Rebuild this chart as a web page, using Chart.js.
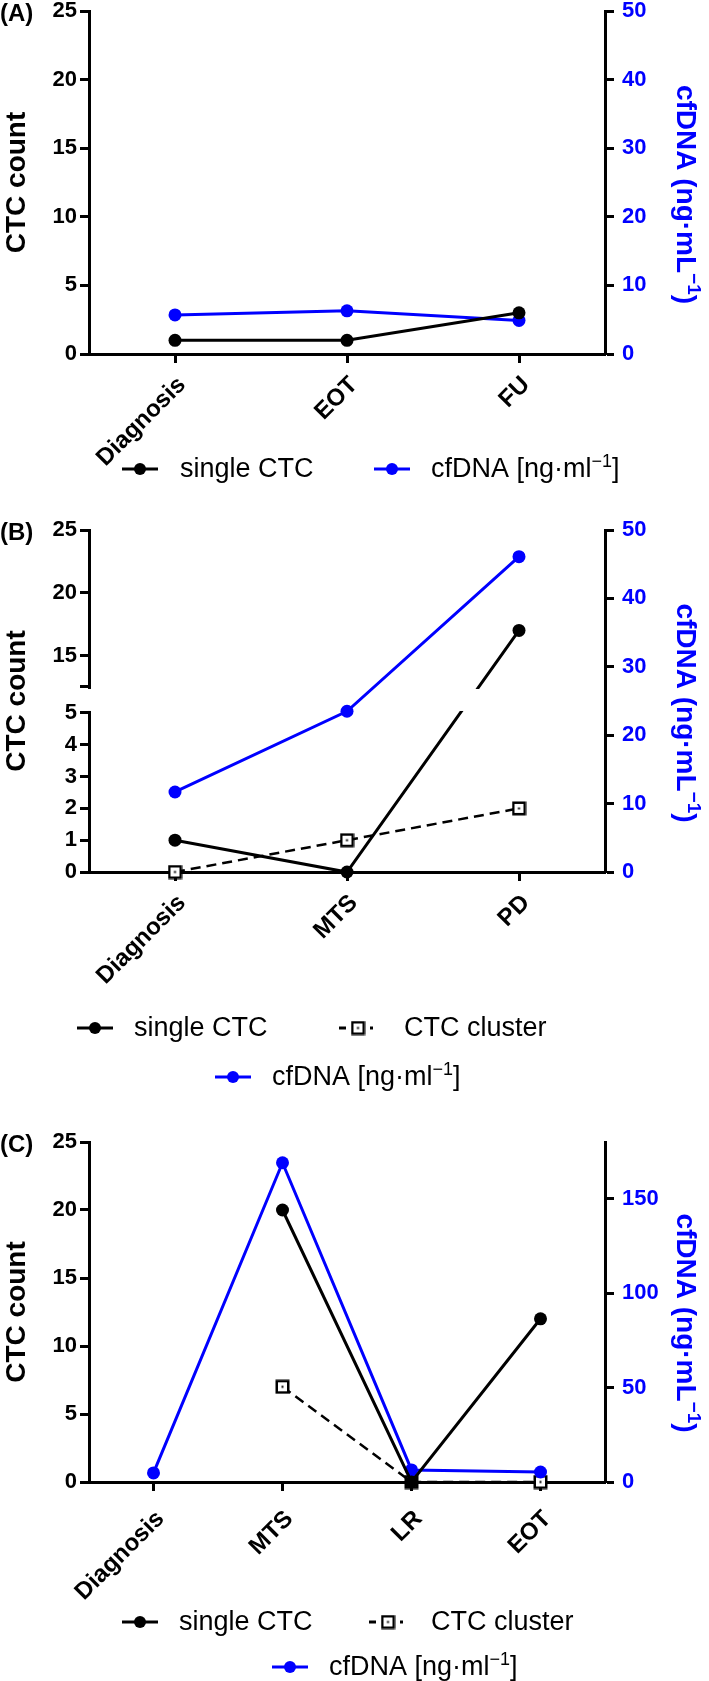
<!DOCTYPE html>
<html>
<head>
<meta charset="utf-8">
<script src="https://cdn.jsdelivr.net/npm/chart.js@4.4.1/dist/chart.umd.min.js"></script>
<style>
  html, body { margin: 0; padding: 0; background: #ffffff; }
  body { width: 709px; height: 1681px; position: relative; overflow: hidden; }
  .panel { position: absolute; left: 0; width: 709px; }
  canvas { display: block; }
</style>
</head>
<body>
<div class="panel" style="top:0px;height:505px"><canvas id="chartA" width="709" height="505"></canvas></div>
<div class="panel" style="top:505px;height:595px"><canvas id="chartB" width="709" height="595"></canvas></div>
<div class="panel" style="top:1100px;height:581px"><canvas id="chartC" width="709" height="581"></canvas></div>
<script>
// ---------------- DATA ----------------
const LABEL_SINGLE = 'single CTC';
const LABEL_CLUSTER = 'CTC cluster';
const LABEL_CFDNA = 'cfDNA [ng·ml⁻¹]';
const TITLE_LEFT = 'CTC count';
const TITLE_RIGHT = 'cfDNA (ng·mL⁻¹)';

// Panel A
const categoriesA = ['Diagnosis', 'EOT', 'FU'];
const singleCtcA = [1, 1, 3];
const cfdnaA = [5.7, 6.3, 4.9];
const ctcTicksA = [0, 5, 10, 15, 20, 25];
const cfdnaTicksA = [0, 10, 20, 30, 40, 50];

// Panel B (left axis broken between 5 and 12.5)
const categoriesB = ['Diagnosis', 'MTS', 'PD'];
const singleCtcB = [1, 0, 17];
const ctcClusterB = [0, 1, 2];
const cfdnaB = [11.7, 23.5, 46.1];
const ctcTicksB = [0, 1, 2, 3, 4, 5, 12.5, 15, 20, 25];
const ctcTickUnlabelledB = [12.5];
const cfdnaTicksB = [0, 10, 20, 30, 40, 50];

// Panel C
const categoriesC = ['Diagnosis', 'MTS', 'LR', 'EOT'];
const singleCtcC = [null, 20, 0, 12];
const ctcClusterC = [null, 7, 0, 0];
const cfdnaC = [4.8, 169, 6.4, 5.3];
const ctcTicksC = [0, 5, 10, 15, 20, 25];
const cfdnaTicksC = [0, 50, 100, 150];

// ---------------- STYLE ----------------
const FONT = "'Liberation Sans', Arial, Helvetica, sans-serif";
const BLUE = '#0000ff';
const BLACK = '#000000';
const BREAK_B = { lowMax: 5, highMin: 12.5, lowFrac: 0.465, gapFrac: 0.076 };
const TICK_SIZE = 22, XLABEL_SIZE = 24, TITLE_SIZE = 28, LEGEND_SIZE = 27;

Chart.defaults.font.family = FONT;

// Broken linear scale (piecewise mapping) for panel B
class BrokenLinearScale extends Chart.LinearScale {
  static id = 'brokenLinear';
  static defaults = {};
  _dec(v) {
    const b = BREAK_B;
    const min = this.min, max = this.max;
    if (v <= b.lowMax) return (v - min) / (b.lowMax - min) * b.lowFrac;
    if (v >= b.highMin) return b.lowFrac + b.gapFrac + (v - b.highMin) / (max - b.highMin) * (1 - b.lowFrac - b.gapFrac);
    return b.lowFrac + (v - b.lowMax) / (b.highMin - b.lowMax) * b.gapFrac;
  }
  getPixelForValue(value) {
    if (value === null || value === undefined || isNaN(value)) return NaN;
    return this.getPixelForDecimal(this._dec(value));
  }
  getValueForPixel(pixel) {
    const d = this.getDecimalForPixel(pixel);
    const b = BREAK_B, min = this.min, max = this.max;
    if (d <= b.lowFrac) return min + d / b.lowFrac * (b.lowMax - min);
    if (d >= b.lowFrac + b.gapFrac) return b.highMin + (d - b.lowFrac - b.gapFrac) / (1 - b.lowFrac - b.gapFrac) * (max - b.highMin);
    return b.lowMax + (d - b.lowFrac) / b.gapFrac * (b.highMin - b.lowMax);
  }
}
Chart.register(BrokenLinearScale);

function makeSquareImage() {
  const c = document.createElement('canvas');
  c.width = 15; c.height = 15;
  const g = c.getContext('2d');
  g.fillStyle = '#fff';
  g.fillRect(1, 1, 13, 13);
  g.strokeStyle = '#000';
  g.lineWidth = 2.5;
  g.strokeRect(1.75, 1.75, 11.5, 11.5);
  g.fillStyle = '#000';
  g.fillRect(6.5, 6.5, 2, 2);
  return c;
}
const SQUARE_IMG = makeSquareImage();

function splitSup(label) {
  const i = label.indexOf('⁻¹');
  if (i < 0) return [{ t: label }];
  return [{ t: label.slice(0, i) }, { t: '−1', sup: true }, { t: label.slice(i + 2) }];
}

function drawRich(ctx, parts, cx, cy, rot, size, weight, color, align) {
  ctx.save();
  ctx.translate(cx, cy);
  ctx.rotate(rot);
  const supSize = Math.round(size * 0.68);
  const widths = parts.map(p => {
    ctx.font = `${weight} ${p.sup ? supSize : size}px ${FONT}`;
    return ctx.measureText(p.t).width;
  });
  const total = widths.reduce((a, b) => a + b, 0);
  let x = align === 'left' ? 0 : -total / 2;
  ctx.fillStyle = color;
  ctx.textBaseline = 'middle';
  ctx.textAlign = 'left';
  parts.forEach((p, i) => {
    ctx.font = `${weight} ${p.sup ? supSize : size}px ${FONT}`;
    ctx.fillText(p.t, x, p.sup ? -size * 0.3 : 0);
    x += widths[i];
  });
  ctx.restore();
}

function drawLegendMarker(ctx, kind, cx, cy) {
  ctx.save();
  ctx.lineWidth = 3;
  if (kind === 'single' || kind === 'cfdna') {
    const col = kind === 'single' ? BLACK : BLUE;
    ctx.strokeStyle = col; ctx.fillStyle = col;
    ctx.beginPath(); ctx.moveTo(cx - 18, cy); ctx.lineTo(cx + 18, cy); ctx.stroke();
    ctx.beginPath(); ctx.arc(cx, cy, 6, 0, Math.PI * 2); ctx.fill();
  } else {
    ctx.strokeStyle = BLACK;
    ctx.beginPath(); ctx.moveTo(cx - 19, cy); ctx.lineTo(cx - 12, cy); ctx.stroke();
    ctx.beginPath(); ctx.moveTo(cx + 12, cy); ctx.lineTo(cx + 15, cy); ctx.stroke();
    ctx.drawImage(SQUARE_IMG, cx - 7.5, cy - 7.5);
  }
  ctx.restore();
}

const decorPlugin = {
  id: 'panelDecor',
  afterDraw(chart, args, opts) {
    const ctx = chart.ctx;
    const ca = chart.chartArea;
    ctx.save();
    ctx.font = `bold 24px ${FONT}`;
    ctx.fillStyle = BLACK;
    ctx.textBaseline = 'middle';
    ctx.textAlign = 'left';
    ctx.fillText(opts.letter, 0, ca.top + 3);
    drawRich(ctx, splitSup(TITLE_RIGHT), opts.rightTitleX, (ca.top + ca.bottom) / 2 + opts.rightTitleDy,
      Math.PI / 2, TITLE_SIZE, 'bold', BLUE, 'center');
    const sets = chart.data.datasets;
    opts.legend.forEach(item => {
      const ds = sets[item.index];
      drawLegendMarker(ctx, ds.legendKind, item.x, item.y);
      drawRich(ctx, splitSup(ds.label), item.tx, item.y + 1, 0, LEGEND_SIZE, 'normal', BLACK, 'left');
    });
    ctx.restore();
  }
};

const breakPlugin = {
  id: 'axisBreak',
  afterDatasetDraw(chart, args, opts) {
    if (!opts || !opts.enabled || args.index !== opts.afterIndex) return;
    const y = chart.scales.y;
    const ca = chart.chartArea;
    const ctx = chart.ctx;
    const yTop = y.getPixelForValue(BREAK_B.highMin) + 2;
    const yBot = y.getPixelForValue(BREAK_B.lowMax) - 2;
    ctx.save();
    ctx.fillStyle = '#ffffff';
    ctx.fillRect(ca.left - 5, yTop, (ca.right - 3) - (ca.left - 5), yBot - yTop);
    ctx.restore();
  }
};

function singleDs(data, order) {
  return {
    label: LABEL_SINGLE, legendKind: 'single', data, yAxisID: 'y',
    borderColor: BLACK, backgroundColor: BLACK, borderWidth: 3,
    pointRadius: 6.5, pointHoverRadius: 6.5, pointBackgroundColor: BLACK, pointBorderColor: BLACK, pointBorderWidth: 0,
    tension: 0, clip: false, order
  };
}
function clusterDs(data, order) {
  return {
    label: LABEL_CLUSTER, legendKind: 'cluster', data, yAxisID: 'y',
    borderColor: BLACK, backgroundColor: '#fff', borderWidth: 2.5, borderDash: [10, 6],
    pointStyle: SQUARE_IMG, pointRadius: 7.5,
    tension: 0, clip: false, order
  };
}
function cfdnaDs(data, order) {
  return {
    label: LABEL_CFDNA, legendKind: 'cfdna', data, yAxisID: 'y2',
    borderColor: BLUE, backgroundColor: BLUE, borderWidth: 3,
    pointRadius: 6.5, pointHoverRadius: 6.5, pointBackgroundColor: BLUE, pointBorderColor: BLUE, pointBorderWidth: 0,
    tension: 0, clip: false, order
  };
}

function buildChart(id, cfg) {
  const ctx = document.getElementById(id);
  const gridCommon = {
    display: true, drawOnChartArea: false, drawTicks: true,
    tickLength: 9, tickWidth: 3, tickColor: BLACK
  };
  return new Chart(ctx, {
    type: 'line',
    data: { labels: cfg.labels, datasets: cfg.datasets },
    options: {
      responsive: false, animation: false, devicePixelRatio: 1,
      layout: { padding: { top: cfg.padTop, left: 0, right: 0, bottom: 0 } },
      plugins: {
        legend: { display: false }, tooltip: { enabled: false },
        panelDecor: cfg.decor,
        axisBreak: cfg.axisBreak || { enabled: false }
      },
      scales: {
        x: {
          type: 'category', offset: true,
          grid: Object.assign({}, gridCommon, { offset: false }),
          border: { display: true, width: 3, color: BLACK },
          ticks: {
            color: BLACK, font: { size: XLABEL_SIZE, weight: 'bold' }, minRotation: 45, maxRotation: 45,
            autoSkip: false, padding: cfg.xLabelPad, labelOffset: 7
          },
          afterFit(s) { s.height = cfg.xHeight; s.paddingLeft = 0; s.paddingRight = 0; }
        },
        y: {
          type: cfg.leftType || 'linear', position: 'left', min: 0, max: cfg.leftMax,
          afterBuildTicks(s) { s.ticks = cfg.leftTicks.map(v => ({ value: v })); },
          grid: gridCommon,
          border: { display: true, width: 3, color: BLACK },
          ticks: {
            color: BLACK, font: { size: TICK_SIZE, weight: 'bold' }, padding: 3,
            callback: (v) => (cfg.leftUnlabelled || []).includes(v) ? '' : String(v)
          },
          title: { display: true, text: TITLE_LEFT, color: BLACK, font: { size: TITLE_SIZE, weight: 'bold' }, padding: { top: 0, bottom: 0 } },
          afterFit(s) { s.width = 89; s.paddingTop = 0; s.paddingBottom = 0; }
        },
        y2: {
          type: 'linear', position: 'right', min: 0, max: cfg.rightMax,
          afterBuildTicks(s) { s.ticks = cfg.rightTicks.map(v => ({ value: v })); },
          grid: gridCommon,
          border: { display: true, width: 3, color: BLACK },
          ticks: { color: BLUE, font: { size: TICK_SIZE, weight: 'bold' }, padding: 8, callback: (v) => String(v) },
          afterFit(s) { s.width = 104; s.paddingTop = 0; s.paddingBottom = 0; }
        }
      }
    },
    plugins: [decorPlugin, breakPlugin]
  });
}

// Panel A
buildChart('chartA', {
  labels: categoriesA,
  datasets: [singleDs(singleCtcA, 0), cfdnaDs(cfdnaA, 1)],
  leftMax: 25, leftTicks: ctcTicksA, rightMax: 50, rightTicks: cfdnaTicksA,
  padTop: 11, xHeight: 505 - 354, xLabelPad: 8,
  decor: {
    letter: '(A)', rightTitleX: 685, rightTitleDy: 12,
    legend: [
      { index: 0, x: 140, y: 469, tx: 180 },
      { index: 1, x: 392, y: 469, tx: 431 }
    ]
  }
});

// Panel B
buildChart('chartB', {
  labels: categoriesB,
  datasets: [singleDs(singleCtcB, 3), clusterDs(ctcClusterB, 1), cfdnaDs(cfdnaB, 2)],
  leftType: 'brokenLinear', leftMax: 25, leftTicks: ctcTicksB, leftUnlabelled: ctcTickUnlabelledB,
  rightMax: 50, rightTicks: cfdnaTicksB,
  padTop: 530 - 505, xHeight: 595 - (872 - 505), xLabelPad: 8,
  axisBreak: { enabled: true, afterIndex: 0 },
  decor: {
    letter: '(B)', rightTitleX: 685, rightTitleDy: 12,
    legend: [
      { index: 0, x: 95, y: 1028 - 505, tx: 134 },
      { index: 1, x: 358, y: 1028 - 505, tx: 404 },
      { index: 2, x: 233, y: 1077 - 505, tx: 272 }
    ]
  }
});

// Panel C
buildChart('chartC', {
  labels: categoriesC,
  datasets: [singleDs(singleCtcC, 0), clusterDs(ctcClusterC, 2), cfdnaDs(cfdnaC, 1)],
  leftMax: 25, leftTicks: ctcTicksC, rightMax: 180, rightTicks: cfdnaTicksC,
  padTop: 1142 - 1100, xHeight: 581 - (1482 - 1100), xLabelPad: 14,
  decor: {
    letter: '(C)', rightTitleX: 685, rightTitleDy: 11,
    legend: [
      { index: 0, x: 140, y: 1622 - 1100, tx: 179 },
      { index: 1, x: 388, y: 1622 - 1100, tx: 431 },
      { index: 2, x: 290, y: 1667 - 1100, tx: 329 }
    ]
  }
});
</script>
</body>
</html>
